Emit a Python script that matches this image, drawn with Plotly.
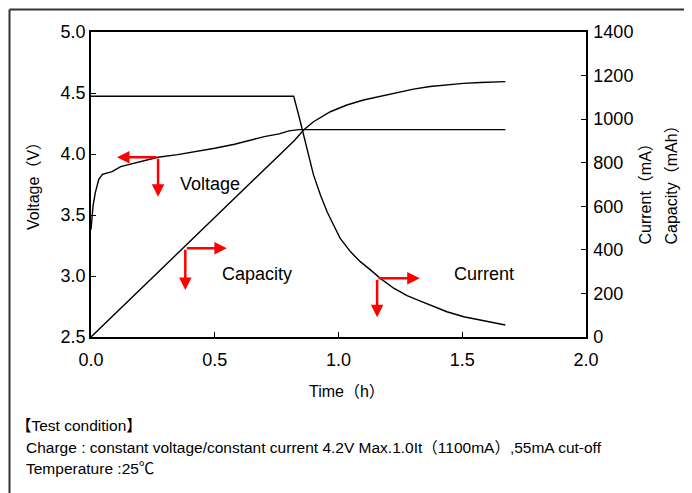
import plotly.graph_objects as go

# ---- data ----
time_voltage = [0.0, 0.004, 0.008, 0.017, 0.031, 0.046, 0.085, 0.12, 0.20, 0.27, 0.35, 0.42,
                0.50, 0.58, 0.65, 0.70, 0.76, 0.80, 0.84, 1.00, 1.20, 1.40, 1.60, 1.674]
voltage = [3.38, 3.50, 3.57, 3.68, 3.79, 3.834, 3.855, 3.896, 3.94, 3.973, 3.995, 4.018,
           4.047, 4.08, 4.115, 4.142, 4.165, 4.19, 4.20, 4.20, 4.20, 4.20, 4.20, 4.20]

time_current = [0.0, 0.2, 0.4, 0.6, 0.819, 0.839, 0.859, 0.879, 0.899, 0.927, 0.954, 0.980,
                1.007, 1.048, 1.088, 1.129, 1.169, 1.223, 1.277, 1.331, 1.371, 1.438, 1.506,
                1.573, 1.640, 1.674]
current = [1105, 1105, 1105, 1105, 1105, 1019, 927, 835, 744, 652, 575, 514,
           453, 392, 346, 308, 269, 224, 190, 165, 147, 116, 93,
           78, 63, 55]

time_capacity = [0.0, 0.2, 0.4, 0.6, 0.765, 0.82, 0.859, 0.899, 0.967, 1.034, 1.101, 1.169,
                 1.236, 1.303, 1.37, 1.438, 1.505, 1.573, 1.64, 1.674]
capacity = [0, 220, 440, 660, 843, 900, 950, 988, 1034, 1065, 1088, 1106,
            1121, 1138, 1150, 1158, 1164, 1168, 1171, 1172]

x_ticks = [0.0, 0.5, 1.0, 1.5, 2.0]
v_ticks = [2.5, 3.0, 3.5, 4.0, 4.5, 5.0]
ma_ticks = [0, 200, 400, 600, 800, 1000, 1200, 1400]

series_labels = ["Voltage", "Capacity", "Current"]

FONT = "Liberation Sans, Arial, Noto Sans CJK JP, sans-serif"

# the page body adds an 8px offset; size the figure so it fits the 692x493 window
OFF = 8
W, H = 692 - OFF, 493 - OFF
L, R, T, B = 91 - OFF, 106, 32 - OFF, 156
PW, PH = W - L - R, H - T - B


def px(x):
    """window pixel x -> paper x"""
    return (x - OFF - L) / PW


def py(y):
    """window pixel y -> paper y"""
    return (H - B - (y - OFF)) / PH


fig = go.Figure()
line_style = dict(color="black", width=1.4)
fig.add_trace(go.Scatter(x=time_voltage, y=voltage, mode="lines", line=line_style, yaxis="y"))
fig.add_trace(go.Scatter(x=time_current, y=current, mode="lines", line=line_style, yaxis="y2"))
fig.add_trace(go.Scatter(x=time_capacity, y=capacity, mode="lines", line=line_style, yaxis="y2"))

axis_common = dict(showline=True, linecolor="black", linewidth=1.5, ticks="inside", ticklen=5,
                   tickcolor="black", tickwidth=1, showgrid=False, zeroline=False,
                   tickfont=dict(size=18, color="black", family=FONT))

fig.update_layout(
    width=W, height=H,
    margin=dict(l=L, r=R, t=T, b=B, pad=0),
    showlegend=False,
    plot_bgcolor="white", paper_bgcolor="white",
    font=dict(family=FONT, size=18, color="black"),
    xaxis=dict(range=[0, 2], tickvals=x_ticks, tickformat=".1f", mirror=True,
               ticklabelstandoff=6, **axis_common),
    yaxis=dict(range=[2.5, 5.0], tickvals=v_ticks, tickformat=".1f",
               ticklabelstandoff=0, **axis_common),
    yaxis2=dict(range=[0, 1400], tickvals=ma_ticks, overlaying="y", side="right",
                ticklabelstandoff=2, **axis_common),
)

annotations = []
# axis titles
annotations.append(dict(text="Voltage（V）", x=px(33), y=py(182), xref="paper", yref="paper",
                        xanchor="center", yanchor="middle",
                        showarrow=False, textangle=-90, font=dict(size=16)))
annotations.append(dict(text="Current（mA）", x=px(645), y=py(247), xref="paper", yref="paper",
                        xanchor="center", yanchor="bottom", showarrow=False, textangle=-90,
                        font=dict(size=16)))
annotations.append(dict(text="Capacity（mAh）", x=px(671), y=py(247), xref="paper", yref="paper",
                        xanchor="center", yanchor="bottom", showarrow=False, textangle=-90,
                        font=dict(size=16)))
annotations.append(dict(text="Time（h）", x=px(347), y=py(391), xref="paper", yref="paper",
                        xanchor="center", yanchor="middle", showarrow=False, font=dict(size=16)))

# series labels (data coordinates)
label_pos = [(0.482, 3.754), (0.672, 3.016), (1.589, 3.016)]
for name, (lx, ly) in zip(series_labels, label_pos):
    annotations.append(dict(text=name, x=lx, y=ly, xref="x", yref="y", showarrow=False,
                            font=dict(size=18)))

# red arrows: (corner, head) pairs in data coordinates
arrow_pairs = [
    ((0.271, 3.973), (0.105, 3.973)), ((0.271, 3.973), (0.271, 3.65)),
    ((0.381, 3.227), (0.549, 3.227)), ((0.381, 3.227), (0.381, 2.885)),
    ((1.156, 2.981), (1.328, 2.981)), ((1.156, 2.981), (1.156, 2.661)),
]
for (tx, ty), (hx, hy) in arrow_pairs:
    annotations.append(dict(text="", x=hx, y=hy, ax=tx, ay=ty, xref="x", yref="y",
                            axref="x", ayref="y", showarrow=True, arrowhead=2, arrowsize=1,
                            arrowwidth=2.5, arrowcolor="red", standoff=0, startstandoff=0))

# test condition notes
notes = ["【Test condition】",
         "Charge : constant voltage/constant current 4.2V Max.1.0It（1100mA）,55mA cut-off",
         "Temperature :25℃"]
note_x = [14, 24, 24]
for txt, xx, yy in zip(notes, note_x, [425, 447, 468]):
    annotations.append(dict(text=txt, x=px(xx), y=py(yy), xref="paper", yref="paper",
                            xanchor="left", yanchor="middle", showarrow=False,
                            font=dict(size=15.5)))

fig.update_layout(annotations=annotations)

# outer frame
fx0, fy0 = px(9.5), py(9.5)
fig.add_shape(type="line", xref="paper", yref="paper", x0=fx0, y0=fy0, x1=px(720), y1=fy0,
              line=dict(color="#333333", width=2))
fig.add_shape(type="line", xref="paper", yref="paper", x0=fx0, y0=fy0, x1=fx0, y1=py(520),
              line=dict(color="#333333", width=2))

fig.write_html("out.html")
